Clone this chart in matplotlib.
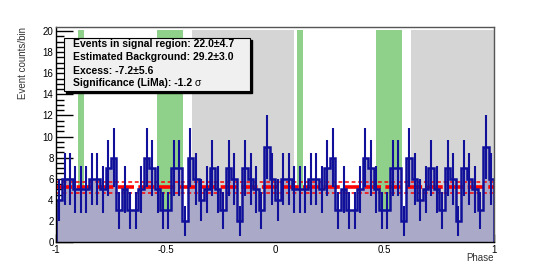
import numpy as np
import matplotlib
matplotlib.use('Agg')
import matplotlib.pyplot as plt
from matplotlib.patches import Rectangle
from matplotlib.ticker import MultipleLocator

plt.rcParams['font.family'] = ['Liberation Sans', 'DejaVu Sans']
plt.rcParams['axes.unicode_minus'] = False

# ---- data: one phase period (40 bins of 0.025), drawn twice over [-1, 1] ----
period_counts = [4, 6, 6, 5, 5, 5, 6, 6, 5, 7,
                 8, 3, 5, 3, 3, 5, 8, 7, 5, 3,
                 3, 7, 7, 2, 8, 6, 4, 5, 7, 5,
                 3, 7, 6, 2, 7, 6, 5, 3, 9, 6]
signal_regions = [(0.10, 0.125), (0.46, 0.58)]
background_regions = [(0.62, 1.085)]
bkg_level = 5.2
bkg_err = 0.53
info_lines = ['Events in signal region: 22.0\u00b14.7',
              'Estimated Background: 29.2\u00b13.0',
              'Excess: -7.2\u00b15.6',
              'Significance (LiMa): -1.2 ']

counts = np.array(period_counts * 2, dtype=float)
edges = np.linspace(-1, 1, len(counts) + 1)
centers = 0.5 * (edges[:-1] + edges[1:])
errs = np.sqrt(counts)

fig = plt.figure(figsize=(5.52, 2.69), dpi=100)
ax = fig.add_axes([0.102, 0.1004, 0.793, 0.7976])
ymax = 20.35
box_top = 20.15

# shaded phase regions, repeated in both periods
for shift in (-1, 0, 1):
    for lo, hi in background_regions:
        ax.add_patch(Rectangle((lo + shift, 0), hi - lo, box_top, color='#d5d5d5', lw=0, zorder=1))
    for lo, hi in signal_regions:
        ax.add_patch(Rectangle((lo + shift, 0), hi - lo, box_top, color='#8fd18a', lw=0, zorder=1))

ax.stairs(counts, edges, fill=True, color='#aaaac8', lw=0, zorder=2)

# background level
ax.axhline(bkg_level, color='#ff0000', lw=2.6, dashes=(4.5, 1.2), zorder=3)
for lv in (bkg_level - bkg_err, bkg_level + bkg_err):
    ax.axhline(lv, color='#ff0000', lw=1.1, dashes=(2.5, 1.8), zorder=3)

ax.stairs(counts, edges, baseline=0, color='#10109a', lw=1.8, zorder=4)
ax.vlines(centers, counts - errs, counts + errs, color='#10109a', lw=1.5, zorder=4)

ax.set_xlim(-1, 1.0)
ax.set_ylim(0, ymax)
ax.xaxis.set_minor_locator(MultipleLocator(0.1))
ax.yaxis.set_major_locator(MultipleLocator(2))
ax.yaxis.set_minor_locator(MultipleLocator(0.5))
ax.set_xticks([-1, -0.5, 0, 0.5, 1])
ax.set_xticklabels(['-1', '-0.5', '0', '0.5', '1'])
ax.tick_params(axis='x', which='major', direction='in', length=6, width=1, labelsize=7, pad=2)
ax.tick_params(axis='x', which='minor', direction='in', length=3, width=1)
ax.tick_params(axis='y', which='major', direction='in', length=12, width=1, labelsize=7, pad=2)
ax.tick_params(axis='y', which='minor', direction='in', length=6, width=1)
for sp in ax.spines.values():
    sp.set_linewidth(1)
    sp.set_zorder(6)
ax.spines['top'].set_color('#555555')
ax.spines['right'].set_color('#555555')

fig.text(0.895, 0.04, 'Phase', ha='right', va='center', fontsize=7, color='#333333')
fig.text(0.042, 0.898, 'Event counts/bin', ha='center', va='top', rotation=90, fontsize=7, color='#333333')

# info box with drop shadow
bx0, bx1, by0, by1 = 0.116, 0.453, 0.662, 0.859
fig.patches.append(Rectangle((bx0 + 0.004, by0 - 0.008), bx1 - bx0, by1 - by0,
                             transform=fig.transFigure, color='black', zorder=7))
fig.patches.append(Rectangle((bx0, by0), bx1 - bx0, by1 - by0, transform=fig.transFigure,
                             facecolor='#f0f0f0', edgecolor='black', lw=0.8, zorder=8))
ys = [0.836, 0.787, 0.737, 0.690]
texts = [fig.text(0.132, y, txt, ha='left', va='center', fontsize=7.5, fontweight='bold', zorder=9)
         for txt, y in zip(info_lines, ys)]
renderer = fig.canvas.get_renderer()
bb = texts[-1].get_window_extent(renderer).transformed(fig.transFigure.inverted())
fig.text(bb.x1, ys[3], '\u03c3', ha='left', va='center', fontsize=7.5, zorder=9)

fig.savefig('out.png', dpi=100)
